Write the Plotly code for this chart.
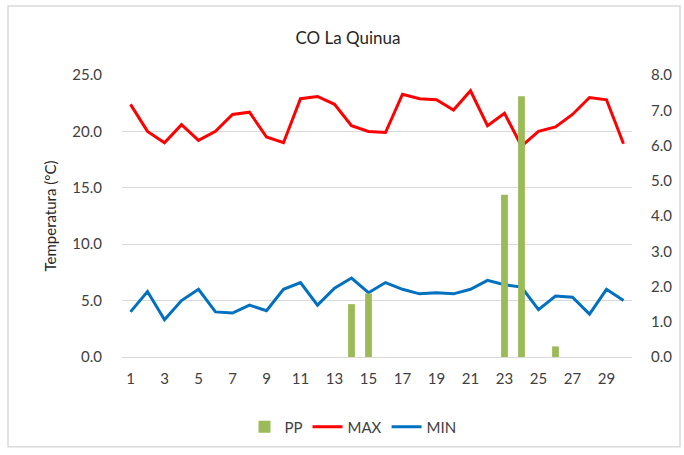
import plotly.graph_objects as go

days = list(range(1, 31))
tmax = [22.4, 20.0, 19.0, 20.6, 19.2, 20.0, 21.5, 21.7, 19.5, 19.0,
        22.9, 23.1, 22.4, 20.5, 20.0, 19.9, 23.3, 22.9, 22.8, 21.9,
        23.6, 20.5, 21.6, 18.7, 20.0, 20.4, 21.5, 23.0, 22.8, 18.9]
tmin = [4.0, 5.8, 3.3, 5.0, 6.0, 4.0, 3.9, 4.6, 4.1, 6.0,
        6.6, 4.6, 6.1, 7.0, 5.7, 6.6, 6.0, 5.6, 5.7, 5.6,
        6.0, 6.8, 6.4, 6.2, 4.2, 5.4, 5.3, 3.8, 6.0, 5.0]
pp = [0, 0, 0, 0, 0, 0, 0, 0, 0, 0,
      0, 0, 0, 1.5, 1.8, 0, 0, 0, 0, 0,
      0, 0, 4.6, 7.4, 0, 0.3, 0, 0, 0, 0]
x_ticks = list(range(1, 30, 2))
left_ticks = [0, 5, 10, 15, 20, 25]
right_ticks = [0, 1, 2, 3, 4, 5, 6, 7, 8]

font = "Lato"
txt = "#404040"
grid = "#d9d9d9"
clear = "rgba(0,0,0,0)"

H = 455
top, bottom = 75, 361
ph = bottom - top

fig = go.Figure()
fig.add_trace(go.Bar(x=days, y=pp, name="PP", marker_color="#9BBB59",
                     marker_line_width=0, yaxis="y2"))
fig.add_trace(go.Scatter(x=days, y=tmax, name="MAX", mode="lines",
                         line=dict(color="#FF0000", width=3)))
fig.add_trace(go.Scatter(x=days, y=tmin, name="MIN", mode="lines",
                         line=dict(color="#0070C0", width=3)))

fig.update_layout(
    width=684, height=H,
    margin=dict(l=122, r=52, t=top, b=H - bottom),
    paper_bgcolor="white", plot_bgcolor="white",
    font=dict(family=font, size=14, color=txt),
    title=dict(text="CO La Quinua", x=348 / 684, xanchor="center", y=1 - 38 / H,
               yanchor="middle", font=dict(size=17, color="#262626")),
    bargap=0.6,
    showlegend=True,
    legend=dict(orientation="h", x=(353 - 122) / 510, xanchor="center",
                y=-(432 - bottom) / ph, yanchor="middle",
                font=dict(size=15, color=txt), traceorder="normal"),
    xaxis=dict(range=[0.5, 30.5], tickmode="array", tickvals=x_ticks,
               ticktext=[str(v) for v in x_ticks], showgrid=False,
               showline=True, linecolor=grid, linewidth=1,
               ticks="outside", ticklen=8, tickcolor=clear,
               tickfont=dict(size=15), zeroline=False),
    yaxis=dict(range=[0, 25], tickmode="array", tickvals=left_ticks,
               tickformat=".1f", showgrid=True, gridcolor=grid, gridwidth=1,
               zeroline=False, ticks="outside", ticklen=16, tickcolor=clear,
               tickfont=dict(size=15),
               title=dict(text="Temperatura (°C)", font=dict(size=15, color="#262626"),
                          standoff=12)),
    yaxis2=dict(range=[0, 8], tickmode="array", tickvals=right_ticks,
                tickformat=".1f", overlaying="y", side="right", showgrid=False,
                zeroline=False, ticks="outside", ticklen=15, tickcolor=clear,
                tickfont=dict(size=15)),
    shapes=[dict(type="rect", xref="paper", yref="paper",
                 x0=-114 / 510, x1=(684 - 4 - 122) / 510,
                 y0=-(H - 3 - bottom) / ph, y1=1 + (top - 5) / ph,
                 line=dict(color="#d9d9d9", width=1.5), fillcolor=clear,
                 layer="below")],
)

fig.write_html("out.html", config={"displayModeBar": False},
               post_script="document.body.style.margin='0';document.body.style.overflow='hidden';")
